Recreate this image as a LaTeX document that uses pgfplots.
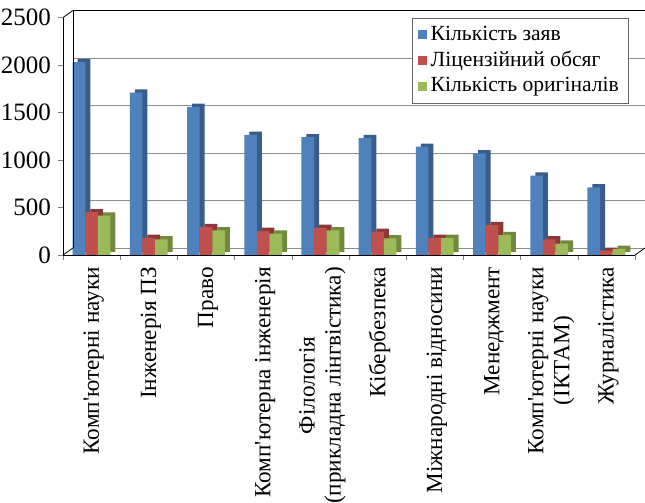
\documentclass[border=0pt]{standalone}
\usepackage{fontspec}
\setmainfont{Liberation Serif}
\usepackage{pgfplots}
\pgfplotsset{compat=1.18}
\definecolor{cblue}{HTML}{4F81BD}
\definecolor{cblueD}{HTML}{385D8A}
\definecolor{cred}{HTML}{C0504D}
\definecolor{credD}{HTML}{8C3836}
\definecolor{cgreen}{HTML}{9BBB59}
\definecolor{cgreenD}{HTML}{71893F}
\pgfplotstableread{
x blue red green
0 2030 450 415
1 1710 180 165
2 1560 295 260
3 1265 255 225
4 1240 285 260
5 1230 245 175
6 1140 180 180
7 1070 315 210
8 835 165 120
9 712 45 65
}\datatable
\begin{document}
\begin{tikzpicture}
\begin{axis}[
 scale only axis,
 width=286pt, height=118.75pt,
 ymin=0, ymax=2500, xmin=-0.5, xmax=9.5,
 ybar, bar width=6.3pt,
 clip=false,
 axis x line*=bottom, axis y line*=left,
 ytick={0,500,...,2500},
 xtick={-0.5,0.5,...,9.5},
 x tick label as interval,
 xticklabels={Комп\textquotesingle ютерні науки, Інженерія ПЗ, Право, Комп\textquotesingle ютерна інженерія, {Філологія\\(прикладна лінгвістика)}, Кібербезпека, Міжнародні відносини, Менеджмент, {Комп\textquotesingle ютерні науки\\(ІКТАМ)}, Журналістика},
 xticklabel style={rotate=90, anchor=east, align=center, font=\fontsize{11.6}{13}\selectfont, yshift=-1pt},
 yticklabel style={font=\fontsize{12.5}{14}\selectfont},
 /pgf/number format/assume math mode=true,
 /pgf/number format/1000 sep={},
 tick align=outside,
 major tick length=2.5pt,
 ymajorgrids,
 major grid style={draw=black!45, xshift=5pt, yshift=3.5pt},
 legend style={at={(0.99,1.0)}, anchor=north east, font=\fontsize{10.8}{12}\selectfont, draw=black!60, row sep=0pt},
 legend cell align=left,
 legend image code/.code={\fill[#1] (0pt,-2.2pt) rectangle (4.4pt,2.2pt);},
]
\addplot[fill=cblueD, draw=none, bar shift=-6.3pt, xshift=2.5pt, yshift=1.6pt, forget plot] table[x=x, y=blue] {\datatable};
\addplot[fill=cblue, draw=none, bar shift=-6.3pt] table[x=x, y=blue] {\datatable};
\addplot[fill=credD, draw=none, bar shift=0pt, xshift=2.5pt, yshift=1.6pt, forget plot] table[x=x, y=red] {\datatable};
\addplot[fill=cred, draw=none, bar shift=0pt] table[x=x, y=red] {\datatable};
\addplot[fill=cgreenD, draw=none, bar shift=6.3pt, xshift=2.5pt, yshift=1.6pt, forget plot] table[x=x, y=green] {\datatable};
\addplot[fill=cgreen, draw=none, bar shift=6.3pt] table[x=x, y=green] {\datatable};
\legend{Кількість заяв, Ліцензійний обсяг, Кількість оригіналів}
\draw ([shift={(5pt,3.5pt)}]rel axis cs:0,0) -- ([shift={(5pt,3.5pt)}]rel axis cs:0,1) -- ([shift={(5pt,3.5pt)}]rel axis cs:1,1);
\draw (rel axis cs:0,1) -- ++(5pt,3.5pt);
\draw (rel axis cs:0,0) -- ++(5pt,3.5pt);
\draw (rel axis cs:1,0) -- ++(5pt,3.5pt);
\end{axis}
\pgfresetboundingbox
\path[use as bounding box] (-31.5pt,-124pt) rectangle (291pt,127.5pt);
\end{tikzpicture}
\end{document}
